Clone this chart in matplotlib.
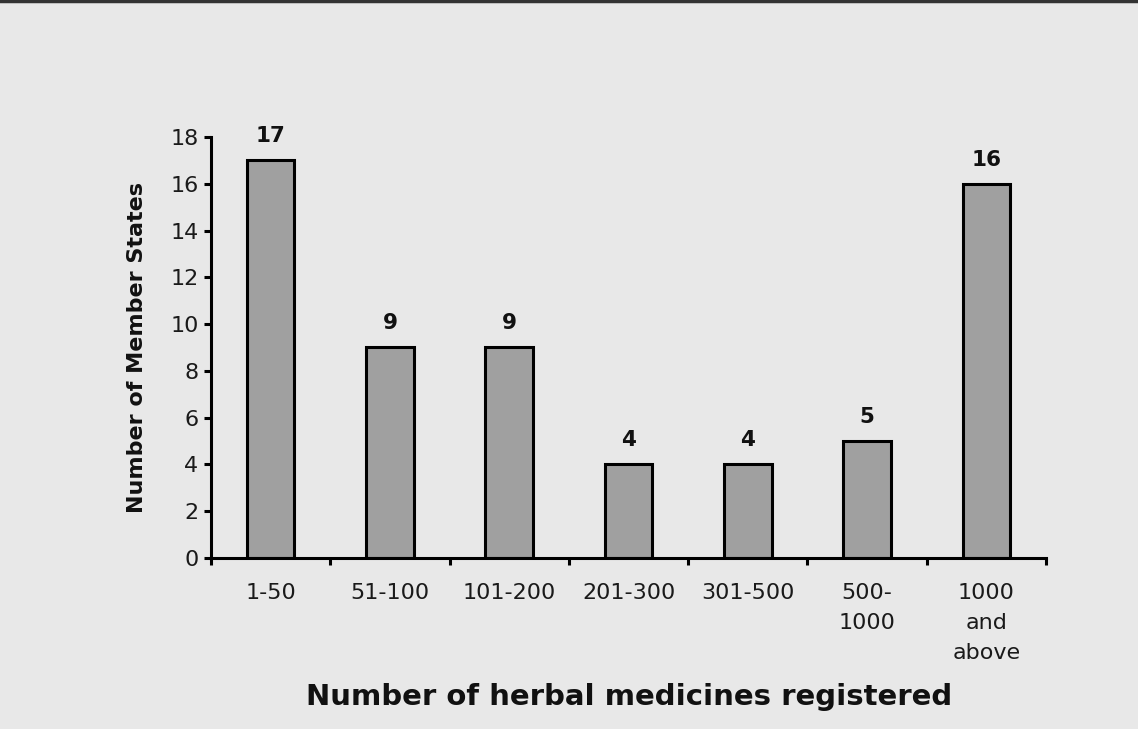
import matplotlib.pyplot as plt
from matplotlib.lines import Line2D

categories = ['1-50', '51-100', '101-200', '201-300', '301-500', '500-\n1000', '1000\nand\nabove']
counts = [17, 9, 9, 4, 4, 5, 16]
yticks = [0, 2, 4, 6, 8, 10, 12, 14, 16, 18]

plt.rcParams['font.family'] = 'DejaVu Sans'

fig = plt.figure(figsize=(11.38, 7.29), dpi=100, facecolor='#e8e8e8')
ax = fig.add_axes([0.1854, 0.2346, 0.7338, 0.5775])
ax.set_facecolor('#e8e8e8')

x = list(range(len(categories)))
bars = ax.bar(x, counts, width=0.4, color='#a0a0a0', edgecolor='black', linewidth=2.2)

for xi, v in zip(x, counts):
    ax.text(xi, v + 0.6, str(v), ha='center', va='bottom', fontsize=15.5, fontweight='bold',
            color='#111111')

ax.set_xlim(-0.5, len(categories) - 0.5)
ax.set_ylim(0, 18)
ax.set_yticks(yticks)
ax.tick_params(axis='y', labelsize=16, width=2.2, length=5, direction='out', pad=4,
               labelcolor='#1a1a1a')

# category boundaries carry the ticks, labels sit under the bars
ax.set_xticks([i - 0.5 for i in range(len(categories) + 1)])
ax.set_xticklabels([])
ax.tick_params(axis='x', width=2.2, length=5, direction='out')
for xi, lab in zip(x, categories):
    ax.text(xi, -1.05, lab, ha='center', va='top', fontsize=16, linespacing=1.65,
            color='#1a1a1a')

for s in ['top', 'right']:
    ax.spines[s].set_visible(False)
for s in ['left', 'bottom']:
    ax.spines[s].set_linewidth(2.2)

fig.text(0.12, 0.524, 'Number of Member States', rotation=90, ha='center', va='center',
         fontsize=16, fontweight='bold', color='#111111')
fig.text(0.553, 0.044, 'Number of herbal medicines registered', ha='center', va='center',
         fontsize=21, fontweight='bold', color='#111111')

fig.add_artist(Line2D([0, 1], [0.9985, 0.9985], color='#333333', linewidth=2.5,
                      transform=fig.transFigure))

fig.savefig('out.png', dpi=100, facecolor=fig.get_facecolor())
